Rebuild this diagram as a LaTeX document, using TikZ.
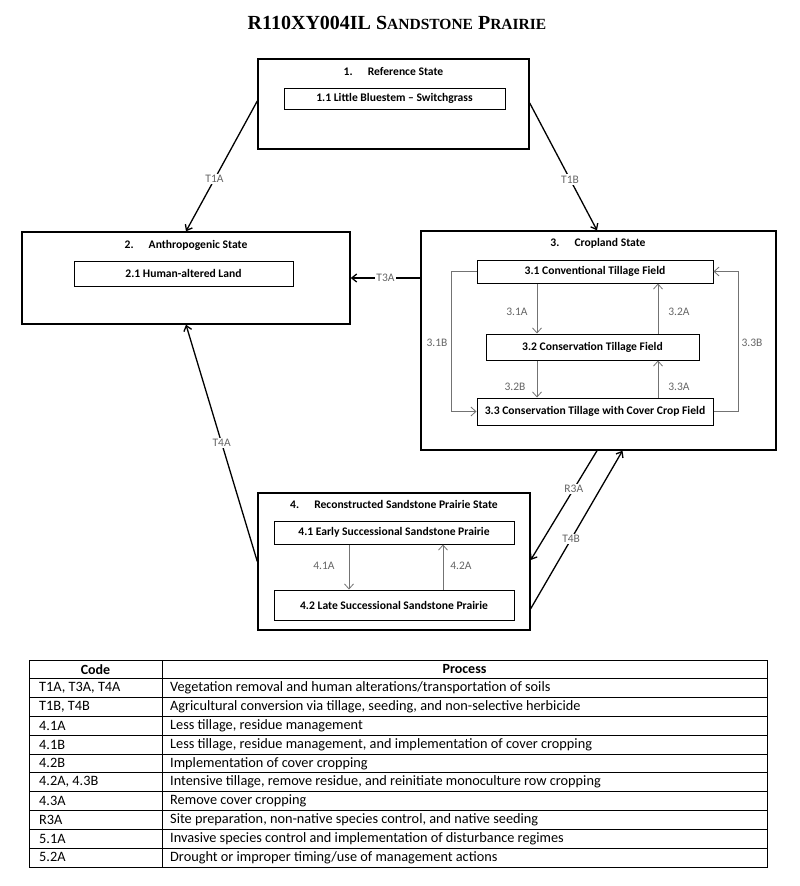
\documentclass[tikz,border=0pt]{standalone}
\usepackage{fontspec}
\setmainfont{Carlito}
\newfontfamily\titlefont{Liberation Serif}
\usetikzlibrary{arrows.meta,calc}
\tikzset{
  statebox/.style={draw, line width=1.4pt, inner sep=0pt},
  phasebox/.style={draw, line width=1pt, inner sep=0pt, font=\bfseries\fontsize{11.6}{13}\selectfont},
  statetitle/.style={font=\bfseries\fontsize{11.6}{13}\selectfont},
  trans/.style={line width=1.3pt, -{Straight Barb[length=5pt,width=8pt,line width=1.3pt]}},
  pathway/.style={black!55, line width=0.8pt, -{Straight Barb[length=5pt,width=9pt]}},
  lbl/.style={fill=white, text=black!60, inner sep=1.5pt, font=\fontsize{11.5}{13}\selectfont},
  cell/.style={anchor=west, inner sep=0pt, font=\fontsize{14.3}{16}\selectfont},
}
\newcommand{\smallcap}[1]{{\fontsize{15.5}{17}\selectfont #1}}

\begin{document}
\begin{tikzpicture}[x=1pt, y=-1pt]
  \useasboundingbox (0,0) rectangle (800,886);
  \node [font=\titlefont\bfseries\fontsize{20}{22}\selectfont] (title) at (397,23)
    {R110XY004IL S\smallcap{ANDSTONE} P\smallcap{RAIRIE}};

  % states
  \node [statebox, minimum width=271pt, minimum height=90pt] (s1) at (393.5,104) {};
  \node [statetitle] (t1) at (393.5,72) {1.\hspace{1.3em}Reference State};
  \node [phasebox, minimum width=221pt, minimum height=21pt] (p11) at (394.5,98.5) {1.1 Little Bluestem -- Switchgrass};

  \node [statebox, minimum width=328pt, minimum height=92pt] (s2) at (186,278) {};
  \node [statetitle] (t2) at (186,245) {2.\hspace{1.3em}Anthropogenic State};
  \node [phasebox, minimum width=219pt, minimum height=25pt] (p21) at (183.5,273.5) {2.1 Human-altered Land};

  \node [statebox, minimum width=355pt, minimum height=219pt] (s3) at (598.5,340.5) {};
  \node [statetitle] (t3) at (598,243) {3.\hspace{1.3em}Cropland State};
  \node [phasebox, minimum width=236pt, minimum height=23pt] (p31) at (595,271.5) {3.1 Conventional Tillage Field};
  \node [phasebox, minimum width=213pt, minimum height=26pt] (p32) at (592.5,347) {3.2 Conservation Tillage Field};
  \node [phasebox, minimum width=236pt, minimum height=27pt] (p33) at (595,411.5) {3.3 Conservation Tillage with Cover Crop Field};

  \node [statebox, minimum width=272pt, minimum height=137pt] (s4) at (394,561.5) {};
  \node [statetitle] (t4) at (394,504) {4.\hspace{1.3em}Reconstructed Sandstone Prairie State};
  \node [phasebox, minimum width=240pt, minimum height=23pt] (p41) at (394,532.5) {4.1 Early Successional Sandstone Prairie};
  \node [phasebox, minimum width=240pt, minimum height=30pt] (p42) at (394,605) {4.2 Late Successional Sandstone Prairie};

  % transitions
  \draw [trans] ([yshift=3pt]s1.west) -- (s2.north) node [lbl, pos=0.6] {T1A};
  \draw [trans] ([yshift=1pt]s1.east) -- ([xshift=-1.5pt]s3.north) node [lbl, pos=0.6] {T1B};
  \draw [trans] (s3.west |- s2.east) -- (s2.east) node [lbl, midway] {T3A};
  \draw [trans] (s4.west) -- (s2.south) node [lbl, midway] {T4A};
  \draw [trans] ([xshift=-1.5pt]s3.south) -- ([yshift=1.5pt]s4.east) node [lbl, pos=0.35] {R3A};
  \draw [trans] ($(s4.south east)+(0,-22)$) -- ($(s3.south)+(24,0)$) node [lbl, pos=0.44] {T4B};

  % community pathways
  \draw [pathway] ([xshift=-58pt]p31.south) -- ([xshift=-58pt]p31.south |- p32.north);
  \draw [pathway] ([xshift=63pt]p31.south |- p32.north) -- ([xshift=63pt]p31.south);
  \draw [pathway] ([xshift=-58pt]p31.south |- p32.south) -- ([xshift=-58pt]p31.south |- p33.north);
  \draw [pathway] ([xshift=63pt]p31.south |- p33.north) -- ([xshift=63pt]p31.south |- p32.south);
  \draw [pathway] (p31.west) -- ++(-25,0) |- (p33.west);
  \draw [pathway] (p33.east) -- ++(25,0) |- (p31.east);
  \draw [pathway] ([xshift=-45pt]p41.south) -- ([xshift=-45pt]p42.north);
  \draw [pathway] ([xshift=49pt]p42.north) -- ([xshift=49pt]p41.south);

  \node [lbl] (l31a) at (517,312) {3.1A};
  \node [lbl] (l32a) at (679,312) {3.2A};
  \node [lbl] (l31b) at (437,343) {3.1B};
  \node [lbl] (l33b) at (752,343) {3.3B};
  \node [lbl] (l32b) at (515,387) {3.2B};
  \node [lbl] (l33a) at (679,387) {3.3A};
  \node [lbl] (l41a) at (324,566) {4.1A};
  \node [lbl] (l42a) at (461,566) {4.2A};

  % legend table
  \draw [line width=0.8pt] (29,660) rectangle (767,867);
  \foreach \r in {1,...,10}
    \draw [line width=0.8pt] (29,{660+18.8*\r}) -- (767,{660+18.8*\r});
  \draw [line width=0.8pt] (162,660) -- (162,867);
  \node [font=\bfseries\fontsize{14}{16}\selectfont] (codehead) at (95.5,669.4) {Code};
  \node [font=\bfseries\fontsize{14}{16}\selectfont] (prochead) at (464.5,669.4) {Process};
  \foreach \c/\p [count=\i] in {
    {T1A, T3A, T4A}/{Vegetation removal and human alterations/transportation of soils},
    {T1B, T4B}/{Agricultural conversion via tillage, seeding, and non-selective herbicide},
    {4.1A}/{Less tillage, residue management},
    {4.1B}/{Less tillage, residue management, and implementation of cover cropping},
    {4.2B}/{Implementation of cover cropping},
    {4.2A, 4.3B}/{Intensive tillage, remove residue, and reinitiate monoculture row cropping},
    {4.3A}/{Remove cover cropping},
    {R3A}/{Site preparation, non-native species control, and native seeding},
    {5.1A}/{Invasive species control and implementation of disturbance regimes},
    {5.2A}/{Drought or improper timing/use of management actions}} {
    \node [cell] (code\i) at (39,{669.4+18.8*\i}) {\c};
    \node [cell] (proc\i) at (170,{669.4+18.8*\i}) {\p};
  }
\end{tikzpicture}
\end{document}
